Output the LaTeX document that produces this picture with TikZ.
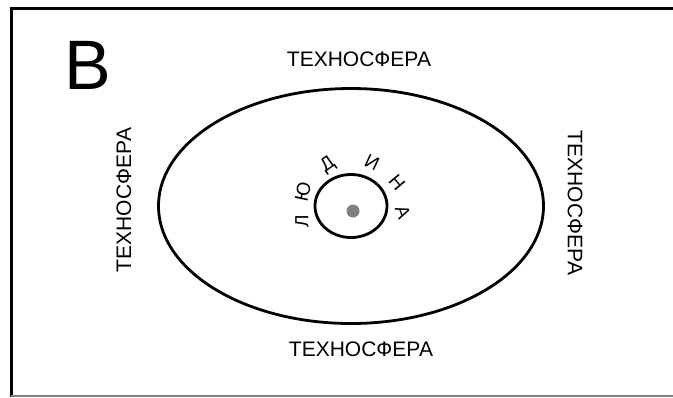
\documentclass[tikz,border=0pt]{standalone}
\usepackage{fontspec}
\setmainfont{Liberation Sans}
\usepackage{tikz}
\usetikzlibrary{positioning,shapes.geometric}
\tikzset{>=latex}
\tikzset{
  sphere/.style={font=\fontsize{21}{24}\selectfont,inner sep=0pt},
  letter/.style={font=\fontsize{19}{22}\selectfont,inner sep=0pt},
}

\begin{document}
\begin{tikzpicture}[x=1pt,y=-1pt]
    \useasboundingbox (0,0) rectangle (673,397);
    % frame
    \draw [line width=3pt] (673,8.5) -- (11,8.5) -- (11,397);
    \draw [gray,line width=1.2pt] (11,396) -- (673,396);
    \node at (87.5,65) [font=\fontsize{70}{80}\selectfont,inner sep=0pt] (label) {В};
    % technosphere and human
    \draw [line width=2.8pt] (351,206) ellipse [x radius=192.5, y radius=117.5];
    \node at (351,206) [draw,ellipse,line width=2.8pt,minimum width=72pt,minimum height=63pt,inner sep=0pt] (man) {};
    \fill [gray] (353,211) circle (6.5);
    \node at (359,59) [sphere] (top) {ТЕХНОСФЕРА};
    \node at (361,349) [sphere] (bottom) {ТЕХНОСФЕРА};
    \node at (124,200) [sphere,rotate=90] (left) {ТЕХНОСФЕРА};
    \node at (575,203) [sphere,rotate=-90] (right) {ТЕХНОСФЕРА};
    \foreach \ch/\x/\y/\r [count=\i] in {Л/302/221/90, Ю/303/192/78, Д/328/165/35, И/372/162/-25, Н/397/183/-50, А/403/212/-70}
      \node at (\x,\y) [letter,rotate=\r] (let\i) {\ch};
\end{tikzpicture}
\end{document}
